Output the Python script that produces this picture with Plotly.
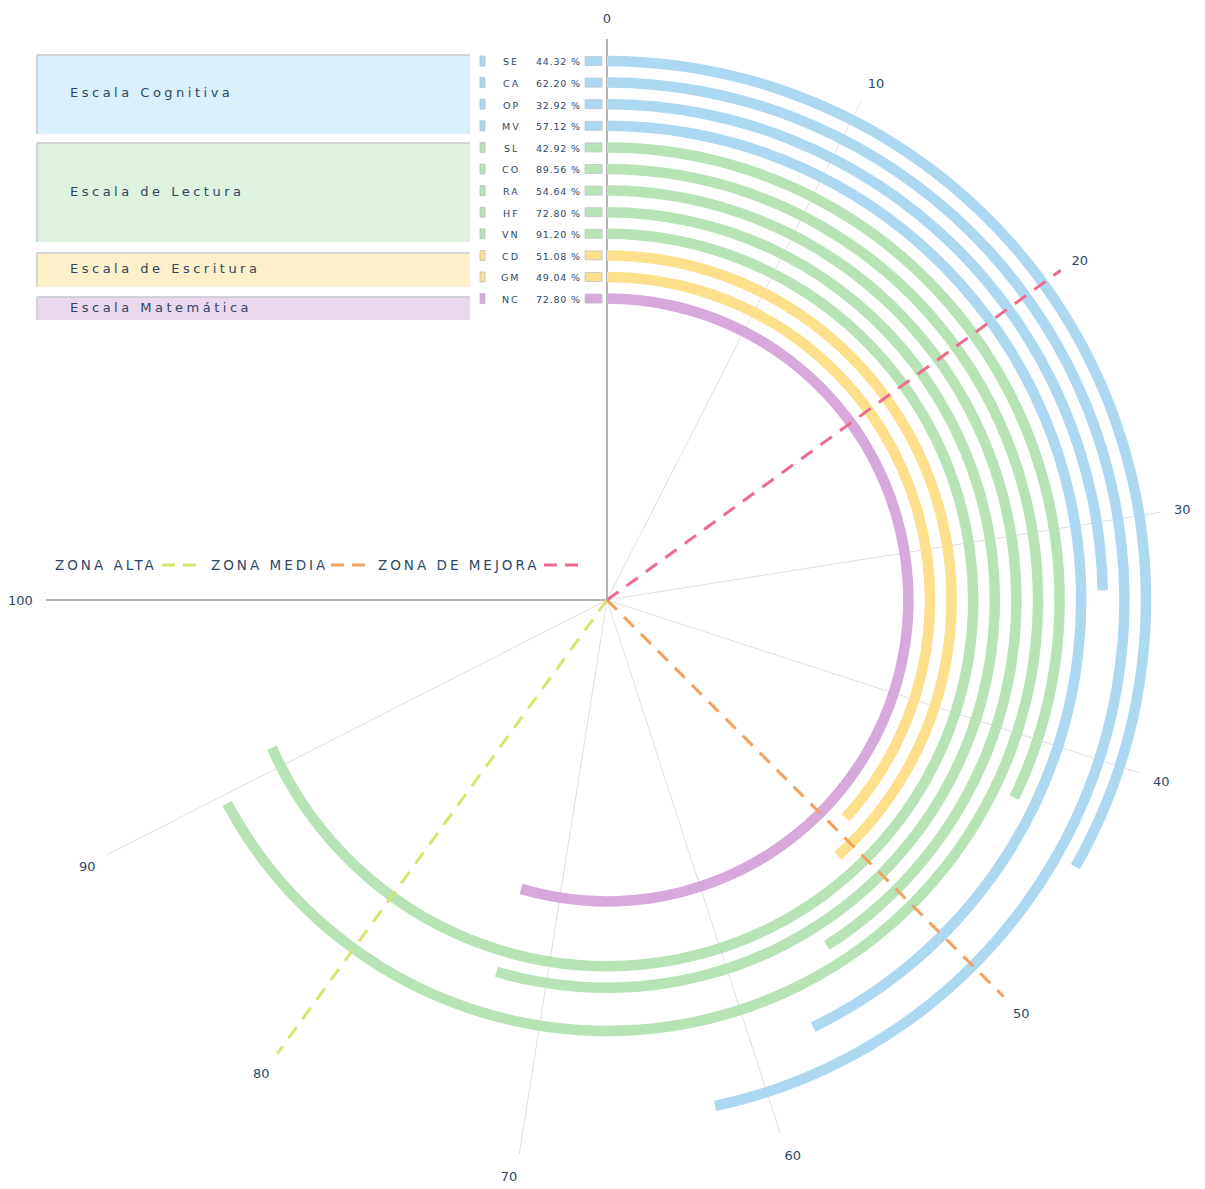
import plotly.graph_objects as go

# ---------------- data ----------------
CODES = ["SE", "CA", "OP", "MV", "SL", "CO", "RA", "HF", "VN", "CD", "GM", "NC"]
VALUES = [44.32, 62.20, 32.92, 57.12, 42.92, 89.56, 54.64, 72.80, 91.20, 51.08, 49.04, 72.80]
GROUPS = ["Escala Cognitiva", "Escala de Lectura", "Escala de Escritura", "Escala Matemática"]
GROUP_SIZES = [4, 5, 2, 1]
TICK_VALUES = [0, 10, 20, 30, 40, 50, 60, 70, 80, 90, 100]
TICK_LABELS = ["0", "10", "20", "30", "40", "50", "60", "70", "80", "90", "100"]
ZONE_NAMES = ["ZONA ALTA", "ZONA MEDIA", "ZONA DE MEJORA"]
ZONE_VALUES = [80, 50, 20]

# ---------------- style / layout ----------------
GROUP_COLORS = ["#acd8f2", "#b7e3b7", "#fddf8c", "#d6a9da"]
GROUP_FILLS = ["#d9effc", "#dff2df", "#fff0ca", "#ebd8ee"]
ZONE_COLORS = ["#d8e56c", "#f2a15f", "#ee6b8c"]
TEXT = "#2d4867"
FONT = "DejaVu Sans"

W, H = 1205, 1189
CX, CY = 607, 600          # centre of the polar plot (px)
R_OUT = 561                # radius of the polar plot (px)
RING_OUTER = 539           # centre radius of the outermost ring (px)
RING_STEP = 21.6
RING_W = 10.5
VALUE_MAX, ANGLE_MAX = 100, 270


def deg(v):
    return v / VALUE_MAX * ANGLE_MAX


def px(x):
    return x / W


def py(y):
    return 1 - y / H


ring_centres = [RING_OUTER - RING_STEP * k for k in range(len(CODES))]
row_y = [CY - r for r in ring_centres]
colors = []
for g, n in enumerate(GROUP_SIZES):
    colors += [GROUP_COLORS[g]] * n

fig = go.Figure()

# gray grid lines (below the rings)
for v in TICK_VALUES:
    if v in ZONE_VALUES:
        continue
    strong = v in (TICK_VALUES[0], TICK_VALUES[-1])
    fig.add_trace(go.Scatterpolar(
        r=[0, R_OUT], theta=[deg(v), deg(v)], mode="lines",
        line=dict(color="#b3b3b3" if strong else "#dedede", width=2 if strong else 1),
        subplot="polar", showlegend=False, hoverinfo="skip"))

# the rings
fig.add_trace(go.Barpolar(
    theta=[deg(v) / 2 for v in VALUES],
    width=[deg(v) for v in VALUES],
    base=[r - RING_W / 2 for r in ring_centres],
    r=[RING_W] * len(VALUES),
    marker=dict(color=colors, line=dict(width=0)),
    customdata=[[c, v] for c, v in zip(CODES, VALUES)],
    hovertemplate="%{customdata[0]}: %{customdata[1]:.2f} %<extra></extra>",
    subplot="polar2", showlegend=False))

# dashed zone lines (above the rings)
for name, v, c in zip(ZONE_NAMES, ZONE_VALUES, ZONE_COLORS):
    fig.add_trace(go.Scatterpolar(
        r=[0, R_OUT], theta=[deg(v), deg(v)], mode="lines", name=name,
        line=dict(color=c, width=3, dash="14px,10px"),
        subplot="polar2", showlegend=False, hoverinfo="skip"))

domain = dict(x=[px(CX - R_OUT), px(CX + R_OUT)], y=[py(CY + R_OUT), py(CY - R_OUT)])
radial = dict(range=[0, R_OUT], visible=False)

fig.update_layout(
    width=W, height=H, margin=dict(l=0, r=0, t=0, b=0),
    paper_bgcolor="white", plot_bgcolor="white",
    font=dict(family=FONT, color=TEXT),
    showlegend=False,
    polar=dict(
        domain=domain, bgcolor="rgba(0,0,0,0)", radialaxis=radial,
        angularaxis=dict(
            rotation=90, direction="clockwise", tickmode="array",
            tickvals=[deg(v) for v in TICK_VALUES], ticktext=TICK_LABELS,
            showgrid=False, showline=False, ticks="outside", ticklen=10,
            tickcolor="rgba(0,0,0,0)",
            tickfont=dict(family=FONT, size=13, color=TEXT))),
    polar2=dict(
        domain=domain, bgcolor="rgba(0,0,0,0)", radialaxis=radial,
        angularaxis=dict(rotation=90, direction="clockwise", showgrid=False,
                         showline=False, showticklabels=False, ticks="")),
)

shapes = []
annotations = []


def ann(text, x, y, size, xanchor="left", spacing=0):
    if spacing:
        text = '<span style="letter-spacing:%spx">%s</span>' % (spacing, text)
    return dict(text=text, x=px(x), y=py(y), xref="paper", yref="paper",
                xanchor=xanchor, yanchor="middle", showarrow=False,
                font=dict(family=FONT, size=size, color=TEXT))


# group boxes
BOX_X = (37, 470)
BOX_Y = [(55, 134), (143, 242), (253, 287), (297, 320)]
LABEL_Y = [93, 191, 268, 308]
for g, name in enumerate(GROUPS):
    y0, y1 = BOX_Y[g]
    shapes.append(dict(type="rect", xref="paper", yref="paper",
                       x0=px(BOX_X[0]), x1=px(BOX_X[1]), y0=py(y1), y1=py(y0),
                       fillcolor=GROUP_FILLS[g], line=dict(width=0)))
    shapes.append(dict(type="line", xref="paper", yref="paper",
                       x0=px(BOX_X[0]), x1=px(BOX_X[1]), y0=py(y0), y1=py(y0),
                       line=dict(color="#c4c9cc", width=1.5)))
    shapes.append(dict(type="line", xref="paper", yref="paper",
                       x0=px(BOX_X[0]), x1=px(BOX_X[0]), y0=py(y1), y1=py(y0),
                       line=dict(color="#c4c9cc", width=1.5)))
    annotations.append(ann(name, 68, LABEL_Y[g], 13, spacing=3.5))

# rows of the table
for k, (code, v) in enumerate(zip(CODES, VALUES)):
    y = row_y[k]
    c = colors[k]
    shapes.append(dict(type="rect", xref="paper", yref="paper",
                       x0=px(480), x1=px(485), y0=py(y + 5), y1=py(y - 5),
                       fillcolor=c, line=dict(color="#b8bcc0", width=0.8)))
    shapes.append(dict(type="rect", xref="paper", yref="paper",
                       x0=px(585), x1=px(602), y0=py(y + 4.5), y1=py(y - 4.5),
                       fillcolor=c, line=dict(color="#bfc3c6", width=0.8)))
    annotations.append(ann(code, 511, y + 1, 9.5, xanchor="center", spacing=2))
    annotations.append(ann("%.2f %%" % v, 583, y + 1, 9.5, xanchor="right", spacing=0.8))

# zone legend
ZL_TEXT_X = [53, 209, 376]
ZL_DASH_X = [162, 331, 544]
ZL_Y = 565
for name, c, tx, dx in zip(ZONE_NAMES, ZONE_COLORS, ZL_TEXT_X, ZL_DASH_X):
    annotations.append(ann(name, tx, ZL_Y, 13.5, spacing=3))
    shapes.append(dict(type="line", xref="paper", yref="paper",
                       x0=px(dx), x1=px(dx + 34), y0=py(ZL_Y), y1=py(ZL_Y),
                       line=dict(color=c, width=3, dash="13px,8px")))

fig.update_layout(shapes=shapes, annotations=annotations)

fig.write_html("out.html",
               config={"displayModeBar": False},
               post_script="document.body.style.margin='0';document.body.style.overflow='hidden';")
